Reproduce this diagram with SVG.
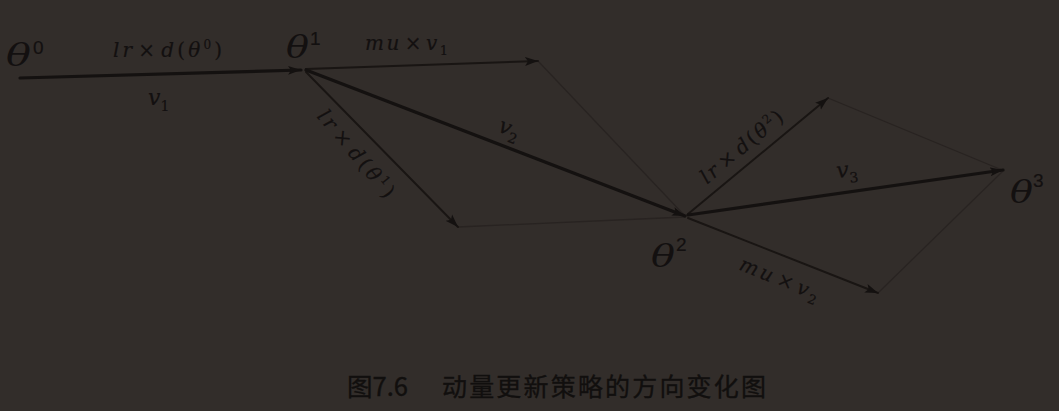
<svg xmlns="http://www.w3.org/2000/svg" width="1059" height="411" viewBox="0 0 1059 411">
<style>
.bg{fill:#322d2a}
.thick{stroke:#141110;stroke-width:3.2;fill:none;stroke-linecap:round}
.mid{stroke:#191513;stroke-width:2;fill:none;stroke-linecap:round}
.thin{stroke:#282321;stroke-width:1.3;fill:none}
.m{font-family:"DejaVu Serif","Liberation Serif",serif;font-style:italic;fill:#131010;stroke:#131010;stroke-width:0.2}
.up{font-style:normal}
.th{font-family:"DejaVu Serif","Liberation Serif",serif;font-style:italic;fill:#131010;font-size:31px}
.sup{font-family:"Liberation Sans","DejaVu Sans",sans-serif;font-style:normal;fill:#131010;stroke:#131010;stroke-width:0.2;font-size:19px}
.cap{font-family:"Noto Sans CJK SC","Liberation Sans",sans-serif;fill:#110f0e;stroke:#110f0e;stroke-width:0.35;font-size:25px}
</style>
<defs>
<marker id="ah" markerUnits="userSpaceOnUse" markerWidth="14" markerHeight="10" refX="13" refY="5" orient="auto">
<path d="M0,0.5 L13,5 L0,9.5 L3,5 Z" fill="#141110"/>
</marker>
</defs>
<rect class="bg" x="0" y="0" width="1059" height="411"/>
<g id="connectors">
<line class="thin" x1="538" y1="61" x2="685" y2="216"/>
<line class="thin" x1="458" y1="227" x2="685" y2="217"/>
<line class="thin" x1="828" y1="98" x2="1002" y2="170"/>
<line class="thin" x1="878" y1="293" x2="1003" y2="171"/>
<line class="thick" x1="20" y1="78" x2="301" y2="70" marker-end="url(#ah)"/>
<line class="mid" x1="306" y1="69" x2="538" y2="61" marker-end="url(#ah)"/>
<line class="mid" x1="306" y1="72" x2="458" y2="227" marker-end="url(#ah)"/>
<line class="thick" x1="306" y1="70" x2="685" y2="216" marker-end="url(#ah)"/>
<line class="mid" x1="688" y1="214" x2="828" y2="98" marker-end="url(#ah)"/>
<line class="thick" x1="688" y1="215" x2="1003" y2="170" marker-end="url(#ah)"/>
<line class="mid" x1="688" y1="218" x2="878" y2="293" marker-end="url(#ah)"/>
</g>
<g id="theta0">
<text class="th" x="6" y="66" textLength="25" lengthAdjust="spacingAndGlyphs">θ</text>
<text class="sup" x="33" y="54">0</text>
</g>
<g id="theta1">
<text class="th" x="286" y="58" textLength="23" lengthAdjust="spacingAndGlyphs">θ</text>
<text class="sup" x="310" y="45">1</text>
</g>
<g id="theta2">
<text class="th" x="651" y="267" textLength="24" lengthAdjust="spacingAndGlyphs">θ</text>
<text class="sup" x="676" y="251">2</text>
</g>
<g id="theta3">
<text class="th" x="1010" y="203" textLength="23" lengthAdjust="spacingAndGlyphs">θ</text>
<text class="sup" x="1033" y="187">3</text>
</g>
<g id="labels">
<text class="m" x="113" y="57" font-size="20" textLength="109">lr<tspan class="up" dx="3">×</tspan><tspan dx="3">d</tspan><tspan class="up">(</tspan>θ<tspan class="up" font-size="12" dy="-8">0</tspan><tspan class="up" dy="8">)</tspan></text>
<text class="m" x="148" y="105" font-size="22">v<tspan class="up" font-size="14" dy="6">1</tspan></text>
<text class="m" x="365" y="50" font-size="20" textLength="83">mu<tspan class="up" dx="3">×</tspan><tspan dx="2">v</tspan><tspan class="up" font-size="13" dy="5">1</tspan></text>
<text class="m" font-size="20" text-anchor="middle" textLength="108" transform="translate(351,158) rotate(50)">lr<tspan class="up" dx="3">×</tspan><tspan dx="3">d</tspan><tspan class="up">(</tspan>θ<tspan class="up" font-size="12" dy="-8">1</tspan><tspan class="up" dy="8">)</tspan></text>
<text class="m" font-size="22" text-anchor="middle" transform="translate(507,135) rotate(21)">v<tspan class="up" font-size="14" dy="6">2</tspan></text>
<text class="m" font-size="20" text-anchor="middle" textLength="102" transform="translate(746,152) rotate(-40)">lr<tspan class="up" dx="3">×</tspan><tspan dx="3">d</tspan><tspan class="up">(</tspan>θ<tspan class="up" font-size="12" dy="-8">2</tspan><tspan class="up" dy="8">)</tspan></text>
<text class="m" font-size="22" transform="translate(837,178) rotate(-6)">v<tspan class="up" font-size="14" dy="6">3</tspan></text>
<text class="m" font-size="20" text-anchor="middle" textLength="84" transform="translate(777,285) rotate(22)">mu<tspan class="up" dx="3">×</tspan><tspan dx="2">v</tspan><tspan class="up" font-size="13" dy="5">2</tspan></text>
</g>
<g id="caption">
<text class="cap" x="347" y="396" textLength="61" lengthAdjust="spacingAndGlyphs">图7.6</text>
<text class="cap" x="442" y="396" textLength="324" lengthAdjust="spacing">动量更新策略的方向变化图</text>
</g>
</svg>
